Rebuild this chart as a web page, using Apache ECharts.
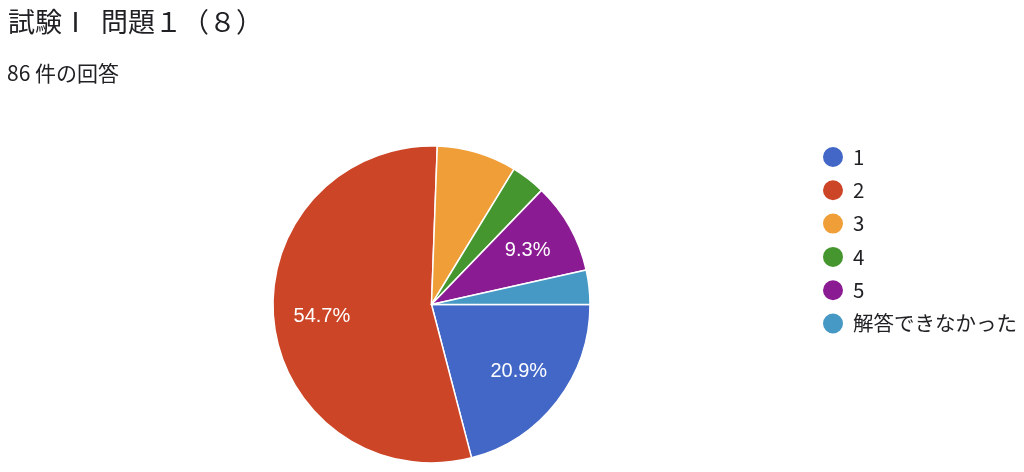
<!DOCTYPE html>
<html><head><meta charset="utf-8">
<script src="https://cdn.jsdelivr.net/npm/echarts@6/dist/echarts.min.js"></script>
<style>html,body{margin:0;padding:0;background:#fff}#c{width:1024px;height:472px}</style>
</head><body><div id="c"></div>
<script>
const titleText = '試験Ⅰ  問題１（８）';
const subText = '86 件の回答';
const categories = ['1', '2', '3', '4', '5', '解答できなかった'];
const counts = [18, 47, 7, 3, 8, 3];
const colors = ['#4267c7', '#cc4527', '#f09e38', '#45962f', '#8b1b92', '#4599c4'];
const showLabel = [true, true, false, false, true, false];

const chart = echarts.init(document.getElementById('c'), null, {renderer: 'canvas'});
const total = counts.reduce((a, b) => a + b, 0);
const baseData = categories.map((n, i) => ({name: n, value: counts[i], itemStyle: {color: colors[i]}}));
const labelData = categories.map((n, i) => ({name: n, value: counts[i],
  label: {show: showLabel[i]}}));
const CX = 431.5, CY = 304.5, R = 158.5;
chart.setOption({
  animation: false,
  title: [
    {text: titleText, left: 8, top: 8, padding: 0, textStyle: {fontFamily: 'Noto Sans CJK JP', fontSize: 27, fontWeight: 'normal', color: '#202124'}},
    {text: subText, left: 7, top: 63, padding: 0, textStyle: {fontFamily: 'Noto Sans CJK JP', fontSize: 21, fontWeight: 'normal', color: '#202124'}}
  ],
  legend: {
    orient: 'vertical', left: 821, top: 145, padding: 0,
    icon: 'circle', itemWidth: 22, itemHeight: 22, itemGap: 9.3,
    data: categories,
    textStyle: {fontFamily: 'Noto Sans CJK JP', fontSize: 20.5, lineHeight: 22, color: '#202124', padding: [0, 0, 0, 4]}
  },
  series: [
    {type: 'pie', center: [CX, CY], radius: [0, R], startAngle: 0, clockwise: true,
     label: {show: false}, labelLine: {show: false},
     itemStyle: {borderColor: '#fff', borderWidth: 1.5},
     emphasis: {disabled: true},
     data: baseData},
    {type: 'pie', center: [CX, CY], radius: [56, R], startAngle: 0, clockwise: true, silent: true,
     itemStyle: {color: 'rgba(0,0,0,0)', borderWidth: 0},
     label: {position: 'inside', color: '#fff', fontSize: 20, fontFamily: 'Liberation Sans',
       formatter: p => (p.value / total * 100).toFixed(1) + '%'},
     labelLine: {show: false}, emphasis: {disabled: true},
     data: labelData}
  ]
});
</script></body></html>
